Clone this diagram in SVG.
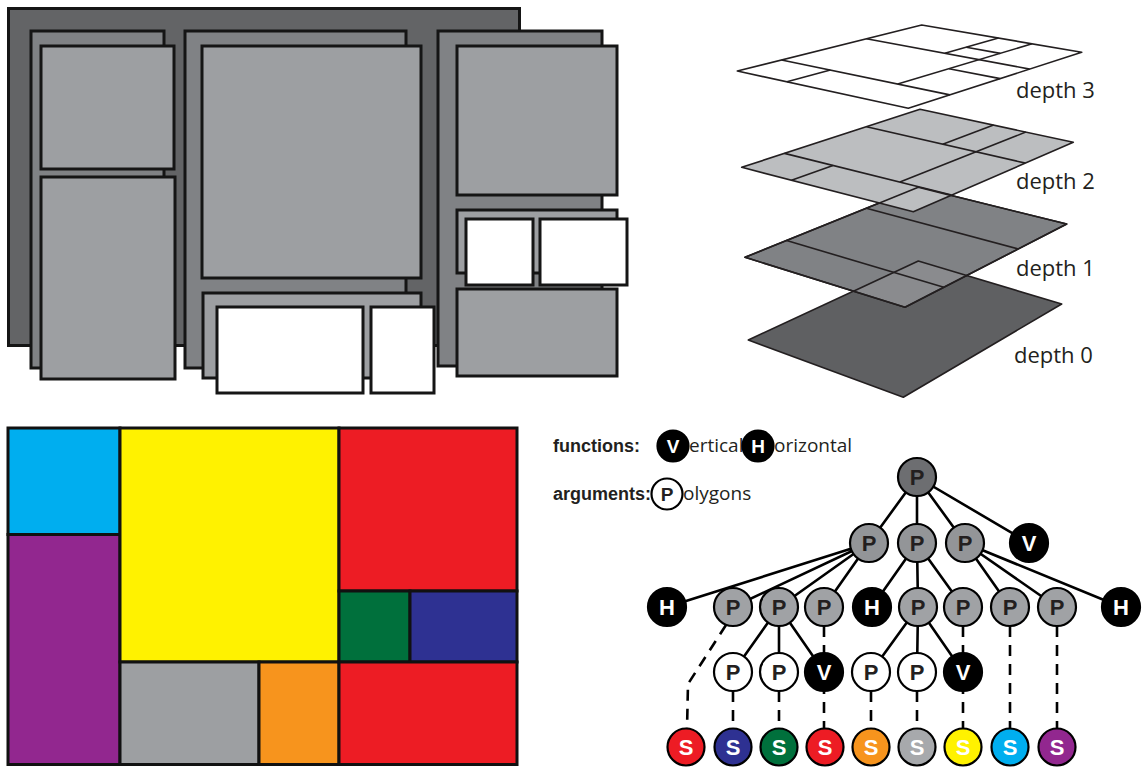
<svg xmlns="http://www.w3.org/2000/svg" width="1148" height="767" viewBox="0 0 1148 767">
<defs>
<style>
.k{stroke:#151515;stroke-width:3}
.d0{fill:#636466}.d1{fill:#808285}.d2{fill:#9d9fa2}.w{fill:#ffffff}
.lay{stroke:#231f20;stroke-width:1.6;stroke-linejoin:round}
.ln{stroke:#231f20;stroke-width:1.6;fill:none;stroke-linejoin:round}
.lbl{font-family:"Open Sans",sans-serif;font-size:22px;fill:#231f20}
.cm{stroke:#111;stroke-width:3}
.e{stroke:#000;stroke-width:2.6;fill:none}
.dash{stroke:#000;stroke-width:2.6;fill:none;stroke-dasharray:11 8}
.n{stroke:#000;stroke-width:2.2}
.t{font-family:"Liberation Sans",Arial,sans-serif;font-weight:bold;font-size:22px;text-anchor:middle}
.tl{font-family:"Liberation Sans",Arial,sans-serif;font-weight:bold;font-size:19px;text-anchor:middle}
.tb{fill:#231f20}.tw{fill:#ffffff}
.leg{font-family:"Open Sans",sans-serif;font-size:19px;fill:#231f20}
.legb{font-family:"Liberation Sans",Arial,sans-serif;font-weight:bold;font-size:18px;fill:#231f20}
</style>
</defs>
<rect width="1148" height="767" fill="#ffffff"/>

<!-- Top-left nested treemap -->
<g id="nested">
  <rect id="n-root" class="k d0" x="8.5" y="8.5" width="511" height="337"/>
  <g id="n-left">
    <rect class="k d1" x="31" y="31" width="133" height="337"/>
    <rect class="k d2" x="41" y="46" width="133" height="123"/>
    <rect class="k d2" x="41" y="177" width="134" height="202"/>
  </g>
  <g id="n-middle">
    <rect class="k d1" x="185" y="31" width="221" height="337"/>
    <rect class="k d2" x="202" y="46" width="219" height="232"/>
    <rect class="k d2" x="203" y="293" width="218" height="85"/>
    <rect class="k w" x="217" y="307" width="146" height="86"/>
    <rect class="k w" x="371" y="307" width="63" height="86"/>
  </g>
  <g id="n-right">
    <rect class="k d1" x="438" y="31" width="164" height="335"/>
    <rect class="k d2" x="457" y="46" width="160" height="149"/>
    <rect class="k d2" x="457" y="210" width="160" height="63"/>
    <rect class="k w" x="466" y="219" width="67" height="66"/>
    <rect class="k w" x="540" y="219" width="87" height="66"/>
    <rect class="k d2" x="457" y="289" width="160" height="87"/>
  </g>
</g>

<!-- Top-right layers -->
<g id="layers">
  <polygon class="lay" fill="#5f6062" points="748.3,340 918.3,261 1061.7,304 903.3,397.3"/>
  <polygon class="lay" fill="#808285" points="745,257.3 918.3,187.3 1066.7,224 905,307.3"/>
  <polygon fill="#ffffff" fill-opacity="0.08" points="853.4,291.2 918.3,261 966.7,275.5 905,307.3"/>
  <line class="ln" x1="786.6" y1="240.5" x2="943.8" y2="287.3"/>
  <line class="ln" x1="866.3" y1="208.3" x2="1018.2" y2="249"/>
  <polyline class="ln" points="853.4,291.2 918.3,261 966.7,275.5"/>
  <polygon class="ln" points="745,257.3 918.3,187.3 1066.7,224 905,307.3"/>

  <polygon class="lay" fill="#bcbec0" points="741.7,167.3 920,109.3 1073.3,142.3 913.3,211.7"/>
  <line class="ln" x1="784.5" y1="153.4" x2="951.7" y2="195"/>
  <line class="ln" x1="866.5" y1="126.7" x2="1025.3" y2="163.1"/>
  <line class="ln" x1="791.5" y1="180.2" x2="833" y2="165.5"/>
  <line class="ln" x1="899.9" y1="182.1" x2="1025.8" y2="132.1"/>
  <line class="ln" x1="942.7" y1="144.2" x2="993.6" y2="125.1"/>
  <polyline class="ln" points="879.5,203 918.3,187.3 950.9,195.4"/>

  <polygon class="lay" fill="#ffffff" points="737.3,71 921.7,25 1081.7,52.3 908.3,108.3"/>
  <line class="ln" x1="781.6" y1="60" x2="949.9" y2="94.9"/>
  <line class="ln" x1="866.4" y1="38.8" x2="1029.7" y2="69.1"/>
  <line class="ln" x1="786.9" y1="81.8" x2="830.4" y2="70.1"/>
  <line class="ln" x1="897.7" y1="84.1" x2="1032.1" y2="43.8"/>
  <line class="ln" x1="944.8" y1="53.3" x2="998.5" y2="38.1"/>
  <line class="ln" x1="949" y1="68.7" x2="1000.2" y2="78.6"/>
  <line class="ln" x1="966.3" y1="47.3" x2="1000.3" y2="53.4"/>

  <text class="lbl" x="1016" y="98">depth 3</text>
  <text class="lbl" x="1016" y="189">depth 2</text>
  <text class="lbl" x="1016" y="276">depth 1</text>
  <text class="lbl" x="1014" y="363">depth 0</text>
</g>

<!-- Bottom-left colored treemap -->
<g id="colormap">
  <rect class="cm" fill="#00aeef" x="8" y="428" width="112" height="106.5"/>
  <rect class="cm" fill="#92278f" x="8" y="534.5" width="112" height="230"/>
  <rect class="cm" fill="#fff200" x="120" y="428" width="219" height="234"/>
  <rect class="cm" fill="#9d9fa2" x="120" y="662" width="139" height="102.5"/>
  <rect class="cm" fill="#f7941d" x="259" y="662" width="80" height="102.5"/>
  <rect class="cm" fill="#ed1c24" x="339" y="428" width="178" height="163"/>
  <rect class="cm" fill="#00703c" x="339" y="591" width="71" height="71"/>
  <rect class="cm" fill="#2e3192" x="410" y="591" width="107" height="71"/>
  <rect class="cm" fill="#ed1c24" x="339" y="662" width="178" height="102.5"/>
</g>

<!-- Legend -->
<g id="legend">
  <text class="legb" x="553" y="452">functions:</text>
  <circle class="n" fill="#000" cx="673" cy="446" r="15.5"/>
  <text class="tl tw" x="673" y="453">V</text>
  <text class="leg" x="689" y="452">ertical</text>
  <circle class="n" fill="#000" cx="758" cy="446" r="15.5"/>
  <text class="tl tw" x="758" y="453">H</text>
  <text class="leg" x="774" y="452">orizontal</text>
  <text class="legb" x="553" y="500">arguments:</text>
  <circle class="n" fill="#fff" cx="667" cy="494" r="15.5"/>
  <text class="tl tb" x="667" y="501">P</text>
  <text class="leg" x="683" y="500">olygons</text>
</g>

<!-- Tree connectors -->
<g id="connectors">
  <path class="e" d="M917,477 L869,543 M917,477 L917,543 M917,477 L965,543 M917,477 L1029,543"/>
  <path class="e" d="M869,543 L667,607 M869,543 L733,607 M869,543 L779,607 M869,543 L824,607"/>
  <path class="e" d="M917,543 L872,607 M917,543 L918,607 M917,543 L963,607"/>
  <path class="e" d="M965,543 L1010,607 M965,543 L1057,607 M965,543 L1121,607"/>
  <path class="e" d="M779,607 L733,672 M779,607 L779,672 M779,607 L824,672"/>
  <path class="e" d="M918,607 L871,672 M918,607 L917,672 M918,607 L963,672"/>
  <path class="dash" d="M726,625 L688,684 L687,730"/>
  <path class="dash" d="M733,691 V730 M779,691 V730 M871,691 V730 M917,691 V730"/>
  <path class="dash" d="M824,626 V730 M963,626 V730 M1010,626 V730 M1057,626 V730"/>
</g>

<!-- Tree nodes -->
<g id="node-root"><circle class="n" fill="#6d6e71" cx="917" cy="477" r="19"/><text class="t tb" x="917" y="485">P</text></g>
<g id="node-1a"><circle class="n" fill="#939598" cx="869" cy="543" r="19"/><text class="t tb" x="869" y="551">P</text></g>
<g id="node-1b"><circle class="n" fill="#939598" cx="917" cy="543" r="19"/><text class="t tb" x="917" y="551">P</text></g>
<g id="node-1c"><circle class="n" fill="#939598" cx="965" cy="543" r="19"/><text class="t tb" x="965" y="551">P</text></g>
<g id="node-1v"><circle class="n" fill="#000" cx="1029" cy="543" r="19"/><text class="t tw" x="1029" y="551">V</text></g>

<g id="node-2a"><circle class="n" fill="#000" cx="667" cy="607" r="19"/><text class="t tw" x="667" y="615">H</text></g>
<g id="node-2b"><circle class="n" fill="#a0a2a5" cx="733" cy="607" r="19"/><text class="t tb" x="733" y="615">P</text></g>
<g id="node-2c"><circle class="n" fill="#a0a2a5" cx="779" cy="607" r="19"/><text class="t tb" x="779" y="615">P</text></g>
<g id="node-2d"><circle class="n" fill="#a0a2a5" cx="824" cy="607" r="19"/><text class="t tb" x="824" y="615">P</text></g>
<g id="node-2e"><circle class="n" fill="#000" cx="872" cy="607" r="19"/><text class="t tw" x="872" y="615">H</text></g>
<g id="node-2f"><circle class="n" fill="#a0a2a5" cx="918" cy="607" r="19"/><text class="t tb" x="918" y="615">P</text></g>
<g id="node-2g"><circle class="n" fill="#a0a2a5" cx="963" cy="607" r="19"/><text class="t tb" x="963" y="615">P</text></g>
<g id="node-2h"><circle class="n" fill="#a0a2a5" cx="1010" cy="607" r="19"/><text class="t tb" x="1010" y="615">P</text></g>
<g id="node-2i"><circle class="n" fill="#a0a2a5" cx="1057" cy="607" r="19"/><text class="t tb" x="1057" y="615">P</text></g>
<g id="node-2j"><circle class="n" fill="#000" cx="1121" cy="607" r="19"/><text class="t tw" x="1121" y="615">H</text></g>

<g id="node-3a"><circle class="n" fill="#fff" cx="733" cy="672" r="19"/><text class="t tb" x="733" y="680">P</text></g>
<g id="node-3b"><circle class="n" fill="#fff" cx="779" cy="672" r="19"/><text class="t tb" x="779" y="680">P</text></g>
<g id="node-3c"><circle class="n" fill="#000" cx="824" cy="672" r="19"/><text class="t tw" x="824" y="680">V</text></g>
<g id="node-3d"><circle class="n" fill="#fff" cx="871" cy="672" r="19"/><text class="t tb" x="871" y="680">P</text></g>
<g id="node-3e"><circle class="n" fill="#fff" cx="917" cy="672" r="19"/><text class="t tb" x="917" y="680">P</text></g>
<g id="node-3f"><circle class="n" fill="#000" cx="963" cy="672" r="19"/><text class="t tw" x="963" y="680">V</text></g>

<g id="leaf-1"><circle class="n" fill="#ed1c24" cx="686" cy="747" r="18.5"/><text class="t tw" x="686" y="755">S</text></g>
<g id="leaf-2"><circle class="n" fill="#2e3192" cx="733" cy="747" r="18.5"/><text class="t tw" x="733" y="755">S</text></g>
<g id="leaf-3"><circle class="n" fill="#00703c" cx="779" cy="747" r="18.5"/><text class="t tw" x="779" y="755">S</text></g>
<g id="leaf-4"><circle class="n" fill="#ed1c24" cx="825" cy="747" r="18.5"/><text class="t tw" x="825" y="755">S</text></g>
<g id="leaf-5"><circle class="n" fill="#f7941d" cx="871" cy="747" r="18.5"/><text class="t tw" x="871" y="755">S</text></g>
<g id="leaf-6"><circle class="n" fill="#a7a9ac" cx="917" cy="747" r="18.5"/><text class="t tw" x="917" y="755">S</text></g>
<g id="leaf-7"><circle class="n" fill="#fff200" cx="963" cy="747" r="18.5"/><text class="t tw" x="963" y="755">S</text></g>
<g id="leaf-8"><circle class="n" fill="#00aeef" cx="1010" cy="747" r="18.5"/><text class="t tw" x="1010" y="755">S</text></g>
<g id="leaf-9"><circle class="n" fill="#92278f" cx="1057" cy="747" r="18.5"/><text class="t tw" x="1057" y="755">S</text></g>
</svg>
